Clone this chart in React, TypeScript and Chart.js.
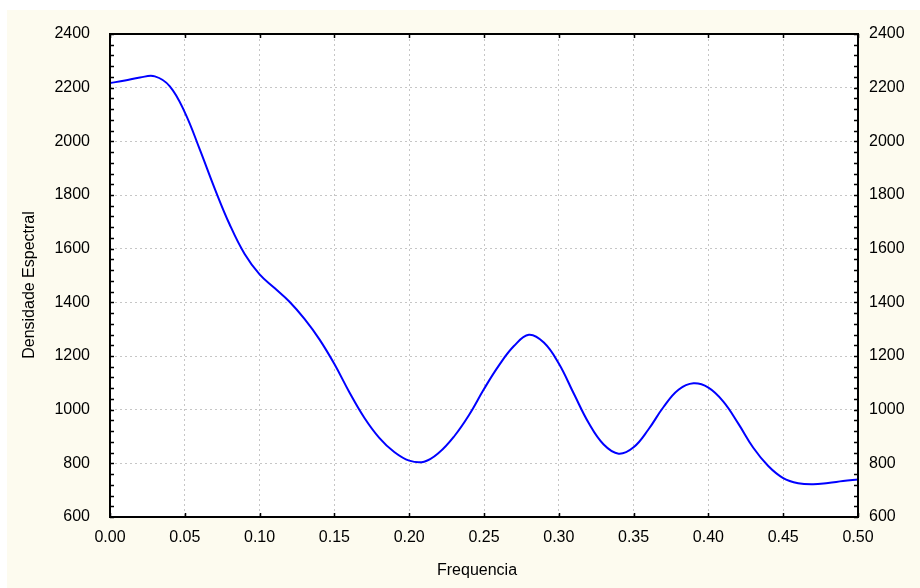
import React, { useEffect, useRef } from "react";
import { Chart, registerables } from "chart.js";

Chart.register(...registerables);

const frequencies = [
  0.0, 0.01, 0.02, 0.03, 0.04, 0.05, 0.06, 0.07, 0.08, 0.09,
  0.1, 0.11, 0.12, 0.13, 0.14, 0.15, 0.16, 0.17, 0.18, 0.19,
  0.2, 0.21, 0.22, 0.23, 0.24, 0.25, 0.26, 0.27, 0.28, 0.29,
  0.3, 0.31, 0.32, 0.33, 0.34, 0.35, 0.36, 0.37, 0.38, 0.39,
  0.4, 0.41, 0.42, 0.43, 0.44, 0.45, 0.46, 0.47, 0.48, 0.49, 0.5,
];

const density = [
  2217, 2227, 2238, 2242, 2205, 2108, 1970, 1824, 1690, 1580,
  1504, 1453, 1402, 1338, 1262, 1170, 1065, 970, 895, 842,
  810, 806, 840, 900, 980, 1077, 1165, 1237, 1279, 1250,
  1172, 1060, 950, 870, 836, 860, 927, 1010, 1074, 1098,
  1082, 1030, 948, 858, 790, 745, 726, 722, 727, 734, 740,
];

const xAxisTitle = "Frequencia";
const yAxisTitle = "Densidade Espectral";
const xMin = 0;
const xMax = 0.5;
const xStep = 0.05;
const yMin = 600;
const yMax = 2400;
const yStep = 200;
const yMinorStep = 40;

const FONT = '"Liberation Sans", Arial, Helvetica, sans-serif';
const CREAM = "#fdfbef";

const framePlugin = {
  id: "framePlugin",
  beforeDraw(chart: any) {
    const { ctx, chartArea } = chart;
    ctx.save();
    ctx.fillStyle = "#ffffff";
    ctx.fillRect(0, 0, chart.width, chart.height);
    ctx.fillStyle = CREAM;
    ctx.fillRect(7, 10, chart.width - 7, chart.height - 10);
    ctx.fillStyle = "#ffffff";
    ctx.fillRect(
      chartArea.left,
      chartArea.top,
      chartArea.right - chartArea.left,
      chartArea.bottom - chartArea.top
    );
    ctx.restore();
  },
  afterDraw(chart: any) {
    const { ctx, chartArea } = chart;
    const xs = chart.scales.x;
    const ys = chart.scales.y;
    ctx.save();
    ctx.strokeStyle = "#000000";
    ctx.lineWidth = 1.5;
    ctx.beginPath();
    for (let v = yMin; v <= yMax + 0.001; v += yMinorStep) {
      const py = Math.round(ys.getPixelForValue(v)) + 0.5;
      ctx.moveTo(chartArea.left, py);
      ctx.lineTo(chartArea.left + 4, py);
      ctx.moveTo(chartArea.right, py);
      ctx.lineTo(chartArea.right - 4, py);
    }
    for (let i = 0; i <= Math.round((xMax - xMin) / xStep); i++) {
      const px = Math.round(xs.getPixelForValue(xMin + i * xStep)) + 0.5;
      ctx.moveTo(px, chartArea.bottom);
      ctx.lineTo(px, chartArea.bottom - 4);
      ctx.moveTo(px, chartArea.top);
      ctx.lineTo(px, chartArea.top + 4);
    }
    ctx.stroke();
    ctx.lineWidth = 2;
    ctx.strokeRect(
      chartArea.left,
      chartArea.top,
      chartArea.right - chartArea.left,
      chartArea.bottom - chartArea.top
    );
    ctx.fillStyle = "#000000";
    ctx.font = "16px " + FONT;
    ctx.textAlign = "center";
    ctx.textBaseline = "alphabetic";
    ctx.fillText(xAxisTitle, 477, 575);
    ctx.translate(34, 285);
    ctx.rotate(-Math.PI / 2);
    ctx.fillText(yAxisTitle, 0, 0);
    ctx.restore();
  },
};

export default function App() {
  const ref = useRef<HTMLCanvasElement | null>(null);

  useEffect(() => {
    document.body.style.margin = "0";
    const canvas = ref.current;
    if (!canvas) return;
    const points = frequencies.map((f, i) => ({ x: f, y: density[i] }));
    const tickFont = { family: FONT, size: 16 };
    const gridCfg = {
      display: true,
      color: "#c6c6c6",
      lineWidth: 1,
      drawTicks: false,
    };
    const chart = new Chart(canvas, {
      type: "line",
      data: {
        datasets: [
          {
            data: points,
            borderColor: "#0000ff",
            borderWidth: 2,
            pointRadius: 0,
            tension: 0.4,
            fill: false,
          },
        ],
      },
      options: {
        animation: false,
        responsive: false,
        devicePixelRatio: 1,
        layout: { padding: { top: 34, left: 0, right: 0, bottom: 0 } },
        plugins: {
          legend: { display: false },
          tooltip: { enabled: false },
        },
        scales: {
          x: {
            type: "linear",
            min: xMin,
            max: xMax,
            position: "bottom",
            grid: gridCfg,
            border: { display: false, dash: [2, 3] },
            ticks: {
              stepSize: xStep,
              color: "#000000",
              font: tickFont,
              padding: 11,
              maxRotation: 0,
              autoSkip: false,
              callback: (v: any) => Number(v).toFixed(2),
            },
            afterFit: (s: any) => {
              s.height = 71;
            },
          },
          y: {
            type: "linear",
            min: yMin,
            max: yMax,
            position: "left",
            grid: gridCfg,
            border: { display: false, dash: [2, 3] },
            ticks: {
              stepSize: yStep,
              color: "#000000",
              font: tickFont,
              padding: 20,
              callback: (v: any) => String(v),
            },
            afterFit: (s: any) => {
              s.width = 110;
            },
          },
          y2: {
            type: "linear",
            min: yMin,
            max: yMax,
            position: "right",
            grid: { display: false, drawTicks: false },
            border: { display: false },
            ticks: {
              stepSize: yStep,
              color: "#000000",
              font: tickFont,
              padding: 11,
              callback: (v: any) => String(v),
            },
            afterFit: (s: any) => {
              s.width = 62;
            },
          },
        },
      },
      plugins: [framePlugin],
    } as any);
    return () => chart.destroy();
  }, []);

  return (
    <div style={{ width: 920, height: 588 }}>
      <canvas ref={ref} width={920} height={588} style={{ display: "block" }} />
    </div>
  );
}
